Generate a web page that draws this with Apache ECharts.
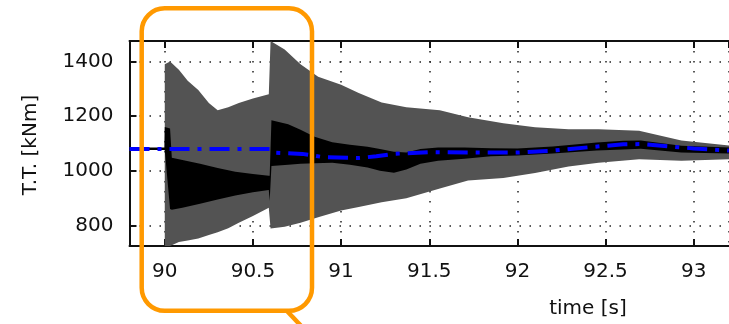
<!DOCTYPE html>
<html>
<head>
<meta charset="utf-8">
<script src="https://cdn.jsdelivr.net/npm/echarts@6/dist/echarts.min.js"></script>
<style>
  html, body { margin: 0; padding: 0; background: #ffffff; }
  #chart { width: 729px; height: 324px; }
</style>
</head>
<body>
<div id="chart"></div>
<script>
// ---- Data ----
// Gray signal (fast oscillation) envelope
const grayTime = [90.0, 90.03, 90.08, 90.13, 90.19, 90.25, 90.3, 90.36, 90.42, 90.5, 90.59, 90.6, 90.68, 90.77, 90.87, 91.0, 91.1, 91.23, 91.37, 91.56, 91.72, 91.92, 92.1, 92.29, 92.46, 92.69, 92.93, 93.2];
const grayHigh = [1390, 1400, 1370, 1330, 1296, 1248, 1222, 1233, 1248, 1265, 1280, 1475, 1444, 1390, 1344, 1315, 1285, 1250, 1233, 1222, 1196, 1174, 1159, 1152, 1152, 1147, 1111, 1093];
const grayLow  = [725, 725, 740, 745, 752, 765, 775, 790, 810, 835, 865, 789, 795, 810, 830, 855, 868, 885, 900, 935, 965, 974, 992, 1016, 1030, 1042, 1037, 1042];

// Black signal envelope
const blackTime = [89.8, 89.998, 90.0, 90.03, 90.04, 90.1, 90.2, 90.3, 90.4, 90.5, 90.59, 90.595, 90.605, 90.7, 90.77, 90.85, 90.95, 91.05, 91.15, 91.22, 91.3, 91.37, 91.45, 91.55, 91.7, 91.85, 92.0, 92.2, 92.45, 92.6, 92.7, 92.93, 93.2];
const blackHigh = [1085, 1085, 1160, 1155, 1048, 1040, 1026, 1010, 997, 988, 982, 982, 1185, 1170, 1150, 1125, 1105, 1095, 1088, 1080, 1070, 1067, 1080, 1085, 1085, 1083, 1082, 1089, 1104, 1110, 1111, 1092, 1085];
const blackLow  = [1076, 1076, 1076, 860, 858, 865, 880, 895, 910, 922, 930, 890, 1018, 1022, 1026, 1028, 1030, 1022, 1012, 1000, 993, 1005, 1026, 1037, 1044, 1053, 1056, 1063, 1074, 1078, 1081, 1067, 1063];

// Blue dash-dot reference line
const blueTime  = [89.8, 90.6, 90.63, 90.78, 90.9, 91.1, 91.2, 91.3, 91.5, 91.8, 92.0, 92.2, 92.4, 92.6, 92.7, 92.85, 93.0, 93.2];
const blueValue = [1080, 1080, 1066, 1062, 1050, 1047, 1053, 1062, 1068, 1067, 1067, 1074, 1086, 1097, 1098, 1090, 1082, 1074];

const xLabel = 'time [s]';
const yLabel = 'T.T. [kNm]';

// ---- Chart ----
const FONT = '"DejaVu Sans", "Liberation Sans", sans-serif';
const AX = '#111111';

// Band between a low and a high envelope, drawn as one polygon through the axes' scales
function bandSeries(name, t, lo, hi, color, z) {
  return {
    name: name, type: 'custom', silent: true, z: z,
    encode: { x: 0, y: [1, 2] },
    data: t.map((x, i) => [x, lo[i], hi[i]]),
    renderItem: function (params, api) {
      if (params.dataIndex !== 0) return null;
      const pts = [];
      for (let i = 0; i < t.length; i++) pts.push(api.coord([t[i], hi[i]]));
      for (let i = t.length - 1; i >= 0; i--) pts.push(api.coord([t[i], lo[i]]));
      const cs = params.coordSys;
      const clipped = echarts.graphic.clipPointsByRect(pts, { x: cs.x, y: cs.y, width: cs.width, height: cs.height });
      return { type: 'polygon', shape: { points: clipped }, style: { fill: color, stroke: null } };
    }
  };
}

const axisCommon = {
  axisLine: { show: true, onZero: false, lineStyle: { color: AX, width: 2 } },
  axisTick: { show: true, inside: true, length: 7, lineStyle: { color: AX, width: 2 } },
};
const gridLine = { show: true, lineStyle: { color: '#222', width: 1.5, type: [1.5, 8.5] } };
const plain = v => String(v);

const chart = echarts.init(document.getElementById('chart'), null, { renderer: 'canvas' });
chart.setOption({
  animation: false,
  backgroundColor: '#ffffff',
  grid: { left: 129.5, top: 41, width: 602, height: 205, containLabel: false },
  xAxis: [
    Object.assign({
      type: 'value', min: 89.8, max: 93.2, splitNumber: 7, position: 'bottom',
      axisLabel: { fontFamily: FONT, fontSize: 20, color: AX, margin: 16, formatter: plain, showMinLabel: false, showMaxLabel: false },
      splitLine: gridLine
    }, axisCommon),
    Object.assign({
      type: 'value', min: 89.8, max: 93.2, splitNumber: 7, position: 'top',
      axisLabel: { show: false }, splitLine: { show: false }
    }, axisCommon)
  ],
  yAxis: [
    Object.assign({
      type: 'value', min: 725, max: 1475, position: 'left',
      axisLabel: { fontFamily: FONT, fontSize: 20, color: AX, margin: 16, formatter: plain, showMinLabel: false, showMaxLabel: false },
      splitLine: gridLine
    }, axisCommon)
  ],
  series: [
    bandSeries('gray', grayTime, grayLow, grayHigh, '#535353', 2),
    bandSeries('black', blackTime, blackLow, blackHigh, '#000000', 3),
    {
      name: 'reference', type: 'line', symbol: 'none', silent: true, z: 5,
      lineStyle: { color: '#0000ff', width: 4, type: [20, 8, 4, 8] },
      data: blueTime.map((x, i) => [x, blueValue[i]])
    }
  ],
  graphic: [
    { type: 'text', x: 31, y: 145, rotation: Math.PI / 2,
      style: { text: yLabel, x: 0, y: 0, align: 'center', verticalAlign: 'middle', font: '20px ' + FONT, fill: AX } },
    { type: 'text', x: 588, y: 309,
      style: { text: xLabel, x: 0, y: 0, align: 'center', verticalAlign: 'middle', font: '20px ' + FONT, fill: AX } },
    { type: 'rect', z: 100,
      shape: { x: 141.7, y: 8.3, width: 170.3, height: 302.5, r: 23 },
      style: { fill: null, stroke: '#FF9900', lineWidth: 4.5 } },
    { type: 'line', z: 100,
      shape: { x1: 287, y1: 311, x2: 304, y2: 329 },
      style: { stroke: '#FF9900', lineWidth: 4.5 } }
  ]
});
</script>
</body>
</html>
